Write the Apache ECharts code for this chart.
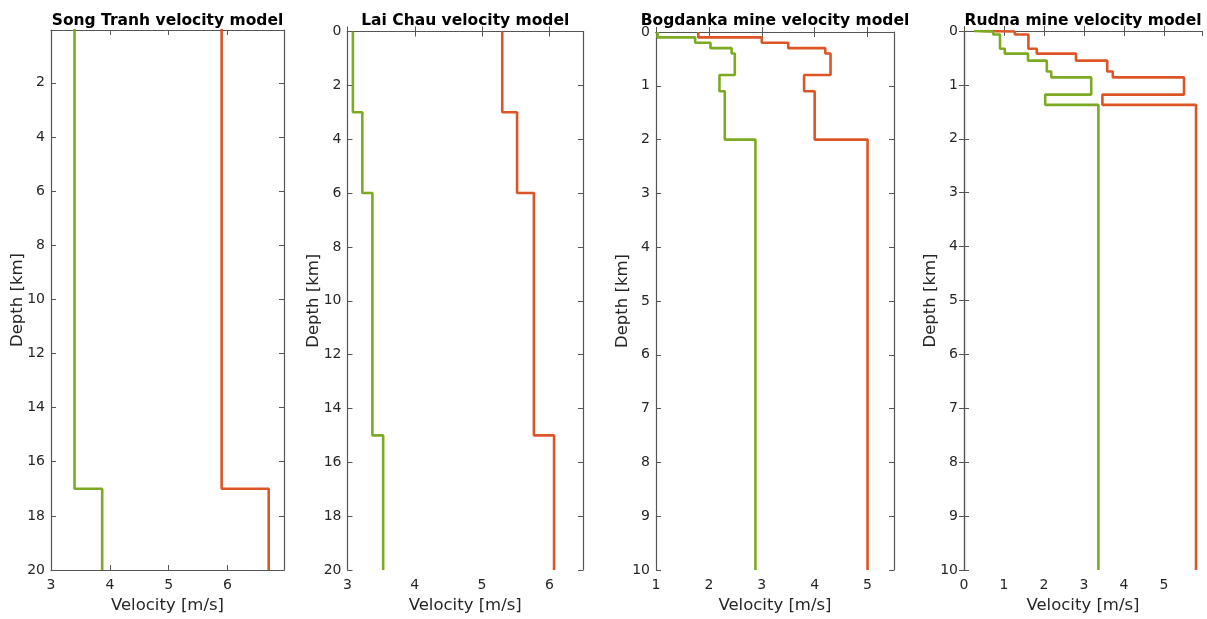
<!DOCTYPE html>
<html>
<head>
<meta charset="utf-8">
<script src="https://cdn.jsdelivr.net/npm/echarts@6/dist/echarts.min.js"></script>
<style>
html,body{margin:0;padding:0;background:#fff;}
#chart{width:1207px;height:619px;}
</style>
</head>
<body>
<div id="chart"></div>
<script>
// ---- Data ----
var titles = ['Song Tranh velocity model', 'Lai Chau velocity model', 'Bogdanka mine velocity model', 'Rudna mine velocity model'];

// layer boundaries (km) and velocities per layer
var songTranhDepths = [0, 17, 20];
var songTranhVp = [5.9, 6.7];
var songTranhVs = [3.4, 3.87];

var laiChauDepths = [0, 3, 6, 15, 20];
var laiChauVp = [5.3, 5.52, 5.77, 6.07];
var laiChauVs = [3.08, 3.22, 3.37, 3.53];

var bogdankaDepths = [0, 0.1, 0.2, 0.3, 0.4, 0.8, 1.1, 2, 10];
var bogdankaVp = [1.8, 3.0, 3.5, 4.2, 4.3, 3.8, 4.0, 5.0];
var bogdankaVs = [1.03, 1.74, 2.03, 2.43, 2.49, 2.2, 2.3, 2.88];

var rudnaDepths = [0, 0.01, 0.065, 0.33, 0.42, 0.55, 0.75, 0.86, 1.18, 1.37, 10];
var rudnaVp = [0.42, 1.27, 1.61, 1.82, 2.8, 3.58, 3.72, 5.5, 3.46, 5.8];
var rudnaVs = [0.25, 0.73, 0.9, 1.02, 1.6, 2.07, 2.18, 3.18, 2.03, 3.36];

// axis ranges and ticks
var xMins = [3, 3, 1, 0];
var xMaxs = [6.96, 6.5, 5.5, 5.95];
var xIntervals = [1, 1, 1, 1];
var yMins = [0.05, 0, 0, 0];
var yMaxs = [20, 20, 10, 10];
var yTickValues = [
  [2, 4, 6, 8, 10, 12, 14, 16, 18, 20],
  [0, 2, 4, 6, 8, 10, 12, 14, 16, 18, 20],
  [0, 1, 2, 3, 4, 5, 6, 7, 8, 9, 10],
  [0, 1, 2, 3, 4, 5, 6, 7, 8, 9, 10]
];
var xName = 'Velocity [m/s]';
var yName = 'Depth [km]';

var models = [
  {d: songTranhDepths, vp: songTranhVp, vs: songTranhVs},
  {d: laiChauDepths, vp: laiChauVp, vs: laiChauVs},
  {d: bogdankaDepths, vp: bogdankaVp, vs: bogdankaVs},
  {d: rudnaDepths, vp: rudnaVp, vs: rudnaVs}
];

// ---- Layout ----
var grids = [
  {left: 51, top: 30, width: 233, height: 540},
  {left: 347.5, top: 31.5, width: 235.5, height: 542.5},
  {left: 656, top: 32, width: 238, height: 540},
  {left: 964, top: 31, width: 238, height: 541}
];
var RED = '#DC5526', GREEN = '#7CAA22';
var AX = '#555555', TXT = '#262626';
var FONT = 'DejaVu Sans';

function stairs(depths, vel) {
  var pts = [];
  for (var i = 0; i < vel.length; i++) {
    pts.push([vel[i], depths[i]]);
    pts.push([vel[i], depths[i + 1]]);
  }
  return pts;
}

var option = {
  animation: false,
  backgroundColor: '#fff',
  title: [], grid: [], xAxis: [], yAxis: [], series: []
};

grids.forEach(function (g, i) {
  option.grid.push({left: g.left, top: g.top, width: g.width, height: g.height, show: false});
  option.title.push({
    text: titles[i], left: g.left + g.width / 2 - 5, top: 8, textAlign: 'center',
    textStyle: {fontFamily: FONT, fontSize: 15.5, fontWeight: 'bold', color: '#000'}
  });
  var axLine = {show: true, lineStyle: {color: AX, width: 1.2}};
  var tick = {show: true, inside: true, length: 5, lineStyle: {color: AX, width: 1}};
  // bottom x
  option.xAxis.push({
    type: 'value', gridIndex: i, position: 'bottom', min: xMins[i], max: xMaxs[i], interval: xIntervals[i],
    name: xName, nameLocation: 'middle', nameGap: 27,
    nameTextStyle: {fontFamily: FONT, fontSize: 16.5, color: TXT},
    axisLine: axLine, axisTick: tick, splitLine: {show: false},
    axisLabel: {fontFamily: FONT, fontSize: 14, color: TXT, margin: 8, showMaxLabel: Number.isInteger(xMaxs[i])}
  });
  // top x (box)
  option.xAxis.push({
    type: 'value', gridIndex: i, position: 'top', min: xMins[i], max: xMaxs[i], interval: xIntervals[i],
    axisLine: axLine, axisTick: tick, splitLine: {show: false}, axisLabel: {show: false}
  });
  // left y
  option.yAxis.push({
    type: 'value', gridIndex: i, position: 'left', inverse: true, min: yMins[i], max: yMaxs[i],
    name: yName, nameLocation: 'middle', nameGap: 25, nameMoveOverlap: false,
    nameTextStyle: {fontFamily: FONT, fontSize: 16.5, color: TXT},
    axisLine: axLine,
    axisTick: {show: true, inside: true, length: 5, lineStyle: {color: AX, width: 1}, customValues: yTickValues[i]},
    splitLine: {show: false},
    axisLabel: {fontFamily: FONT, fontSize: 14, color: TXT, margin: 6, customValues: yTickValues[i]}
  });
  // right y (box)
  option.yAxis.push({
    type: 'value', gridIndex: i, position: 'right', inverse: true, min: yMins[i], max: yMaxs[i],
    axisLine: axLine,
    axisTick: {show: true, inside: true, length: 5, lineStyle: {color: AX, width: 1}, customValues: yTickValues[i]},
    splitLine: {show: false}, axisLabel: {show: false}
  });
  var m = models[i];
  option.series.push({
    type: 'line', xAxisIndex: 2 * i, yAxisIndex: 2 * i, data: stairs(m.d, m.vp),
    showSymbol: false, symbol: 'none', lineStyle: {color: RED, width: 2.6}, silent: true
  });
  option.series.push({
    type: 'line', xAxisIndex: 2 * i, yAxisIndex: 2 * i, data: stairs(m.d, m.vs),
    showSymbol: false, symbol: 'none', lineStyle: {color: GREEN, width: 2.6}, silent: true
  });
});

var chart = echarts.init(document.getElementById('chart'), null, {renderer: 'canvas'});
chart.setOption(option);
</script>
</body>
</html>
